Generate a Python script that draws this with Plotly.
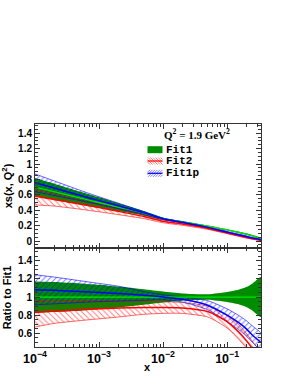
import numpy as np
import plotly.graph_objects as go
from plotly.subplots import make_subplots

# ---- data ----
x_vals = [1e-4, 2e-4, 5e-4, 1e-3, 2e-3, 5e-3, 1e-2, 2e-2, 5e-2, 0.1, 0.15, 0.2, 0.25, 0.34]

# Fit1 central xs(x,Q2)
fit1_central = [0.70, 0.64, 0.56, 0.50, 0.44, 0.36, 0.29, 0.25, 0.195, 0.145, 0.115, 0.09, 0.068, 0.035]
# Fit1 relative half-width of uncertainty band (ratio panel)
fit1_halfwidth = [0.17, 0.165, 0.15, 0.135, 0.115, 0.085, 0.06, 0.04, 0.03, 0.055, 0.08, 0.11, 0.15, 0.22]

# Fit2 ratio to Fit1
fit2_ratio = [0.83, 0.845, 0.86, 0.87, 0.878, 0.885, 0.885, 0.88, 0.84, 0.73, 0.62, 0.52, 0.43, 0.30]
fit2_ratio_hi = [0.96, 0.96, 0.96, 0.96, 0.96, 0.955, 0.95, 0.94, 0.90, 0.80, 0.70, 0.60, 0.51, 0.38]
fit2_ratio_lo = [0.67, 0.71, 0.74, 0.76, 0.78, 0.81, 0.82, 0.82, 0.78, 0.66, 0.54, 0.44, 0.35, 0.22]

# Fit1p ratio to Fit1
fit1p_ratio = [1.08, 1.075, 1.06, 1.05, 1.04, 1.02, 1.0, 0.975, 0.91, 0.80, 0.72, 0.65, 0.58, 0.50]
fit1p_ratio_hi = [1.245, 1.22, 1.18, 1.15, 1.12, 1.06, 1.025, 1.0, 0.96, 0.87, 0.80, 0.74, 0.68, 0.60]
fit1p_ratio_lo = [0.915, 0.925, 0.94, 0.95, 0.955, 0.965, 0.97, 0.945, 0.86, 0.73, 0.645, 0.57, 0.50, 0.41]

y_ticks_top = [0, 0.2, 0.4, 0.6, 0.8, 1, 1.2, 1.4]
y_ticks_bot = [0.6, 0.8, 1, 1.2, 1.4]
legend_names = ["Fit1", "Fit2", "Fit1p"]

x = np.array(x_vals)
f1 = np.array(fit1_central)
hw = np.array(fit1_halfwidth)
r1_hi, r1_lo = 1 + hw, 1 - hw
r2, r2_hi, r2_lo = map(np.array, (fit2_ratio, fit2_ratio_hi, fit2_ratio_lo))
r3, r3_hi, r3_lo = map(np.array, (fit1p_ratio, fit1p_ratio_hi, fit1p_ratio_lo))

GREEN = "rgb(0,140,0)"
LIME = "rgb(0,230,0)"
RED = "rgb(255,0,0)"
BLUE = "rgb(0,0,255)"

W, H = 298, 385
ML, MR, MT, MB = 35, 37, 124, 38

fig = make_subplots(rows=2, cols=1, shared_xaxes=True, vertical_spacing=0,
                    row_heights=[0.556, 0.444])

xx = np.concatenate([x, x[::-1]])


def band(row, lo, hi, color, pattern, name, line_w):
    kw = dict(x=xx, y=np.concatenate([hi, lo[::-1]]), fill="toself", mode="lines",
              line=dict(color=color, width=line_w, shape="spline", smoothing=0.6),
              name=name, showlegend=False, hoverinfo="skip")
    if pattern is None:
        kw["fillcolor"] = color
    else:
        kw["fillcolor"] = "rgba(0,0,0,0)"
        kw["fillpattern"] = dict(shape=pattern, fgcolor=color, bgcolor="rgba(0,0,0,0)",
                                 size=4, solidity=0.25)
    fig.add_trace(go.Scatter(**kw), row=row, col=1)


def central(row, y, color, w=1.5):
    fig.add_trace(go.Scatter(x=x, y=y, mode="lines", showlegend=False,
                             line=dict(color=color, width=w, shape="spline", smoothing=0.6),
                             hoverinfo="skip"), row=row, col=1)


# top panel
band(1, f1 * r1_lo, f1 * r1_hi, GREEN, None, "Fit1", 0)
band(1, f1 * r2_lo, f1 * r2_hi, RED, "\\", "Fit2", 0.6)
band(1, f1 * r3_lo, f1 * r3_hi, BLUE, "/", "Fit1p", 0.6)
central(1, f1, LIME, 1.2)
central(1, f1 * r2, RED)
central(1, f1 * r3, BLUE)

# ratio panel
band(2, r1_lo, r1_hi, GREEN, None, "Fit1", 0)
band(2, r2_lo, r2_hi, RED, "\\", "Fit2", 0.6)
band(2, r3_lo, r3_hi, BLUE, "/", "Fit1p", 0.6)
central(2, np.ones_like(x), LIME, 1.2)
central(2, r2, RED)
central(2, r3, BLUE)

tickfont = dict(family="Liberation Sans", size=10, color="black", weight="bold")
axis_common = dict(showline=True, linecolor="#333", linewidth=1, mirror="allticks",
                   ticks="inside", ticklen=5, tickcolor="#333", showgrid=False,
                   zeroline=False, tickfont=tickfont)
title_font = dict(family="Liberation Sans", size=11, color="black", weight="bold")

fig.update_xaxes(type="log", range=[-4, -0.47], dtick=1, exponentformat="power",
                 minor=dict(ticks="inside", ticklen=3, tickcolor="#333"),
                 **axis_common)
fig.update_xaxes(showticklabels=False, row=1, col=1)

fig.update_yaxes(range=[-0.09, 1.52], tickvals=y_ticks_top,
                 minor=dict(ticks="inside", ticklen=3, dtick=0.05, tickcolor="#333"),
                 title=dict(text="xs(x, Q<sup>2</sup>)", font=title_font, standoff=4),
                 **axis_common, row=1, col=1)
fig.update_yaxes(range=[0.45, 1.54], tickvals=y_ticks_bot,
                 minor=dict(ticks="inside", ticklen=3, dtick=0.05, tickcolor="#333"),
                 title=dict(text="Ratio to Fit1", font=title_font, standoff=4),
                 **axis_common, row=2, col=1)


# ---- pixel -> paper conversion for decorations ----
def px(p):
    return (p - ML) / (W - ML - MR)


def py(p):
    return (H - MB - p) / (H - MT - MB)


# x-axis title
fig.add_annotation(text="x", xref="paper", yref="paper", x=px(147), y=py(367),
                   xanchor="center", yanchor="middle", showarrow=False, font=title_font)

fig.add_annotation(text="Q<sup>2</sup> = 1.9 GeV<sup>2</sup>", xref="paper", yref="paper",
                   x=px(162), y=py(134), xanchor="left", yanchor="middle", showarrow=False,
                   font=dict(family="Liberation Serif", size=11, color="black", weight="bold"))

box_x0, box_x1 = 147.5, 162.5
row_y = [149.7, 161.0, 173.3]
box_h = 7
shapes = []
for name, yc, col, pat in zip(legend_names, row_y, [GREEN, RED, BLUE], [None, "\\", "/"]):
    y0, y1 = yc - box_h / 2, yc + box_h / 2
    if pat is None:
        shapes.append(dict(type="rect", xref="paper", yref="paper",
                           x0=px(box_x0), x1=px(box_x1), y0=py(y1), y1=py(y0),
                           fillcolor=col, line=dict(width=0)))
    else:
        step = 2.5
        k = box_x0 - box_h
        while k < box_x1:
            xa, xb = k, k + box_h
            ya, yb = (y0, y1) if pat == "\\" else (y1, y0)
            slope = (yb - ya) / (xb - xa)
            if xa < box_x0:
                ya = ya + slope * (box_x0 - xa)
                xa = box_x0
            if xb > box_x1:
                yb = yb - slope * (xb - box_x1)
                xb = box_x1
            shapes.append(dict(type="line", xref="paper", yref="paper",
                               x0=px(xa), x1=px(xb), y0=py(ya), y1=py(yb),
                               line=dict(color=col, width=0.5)))
            k += step
        shapes.append(dict(type="line", xref="paper", yref="paper",
                           x0=px(box_x0), x1=px(box_x1), y0=py(yc), y1=py(yc),
                           line=dict(color=col, width=1.2)))
    fig.add_annotation(text=name, xref="paper", yref="paper", x=px(163.5), y=py(yc),
                       xanchor="left", yanchor="middle", showarrow=False,
                       font=dict(family="Liberation Mono", size=11, color="black",
                                 weight="bold"))

fig.update_layout(
    width=W, height=H,
    margin=dict(l=ML, r=MR, t=MT, b=MB, autoexpand=False),
    paper_bgcolor="white", plot_bgcolor="white",
    showlegend=False,
    shapes=shapes,
)

fig.write_html("out.html", config={"displayModeBar": False},
               post_script="document.body.style.margin='0';")
